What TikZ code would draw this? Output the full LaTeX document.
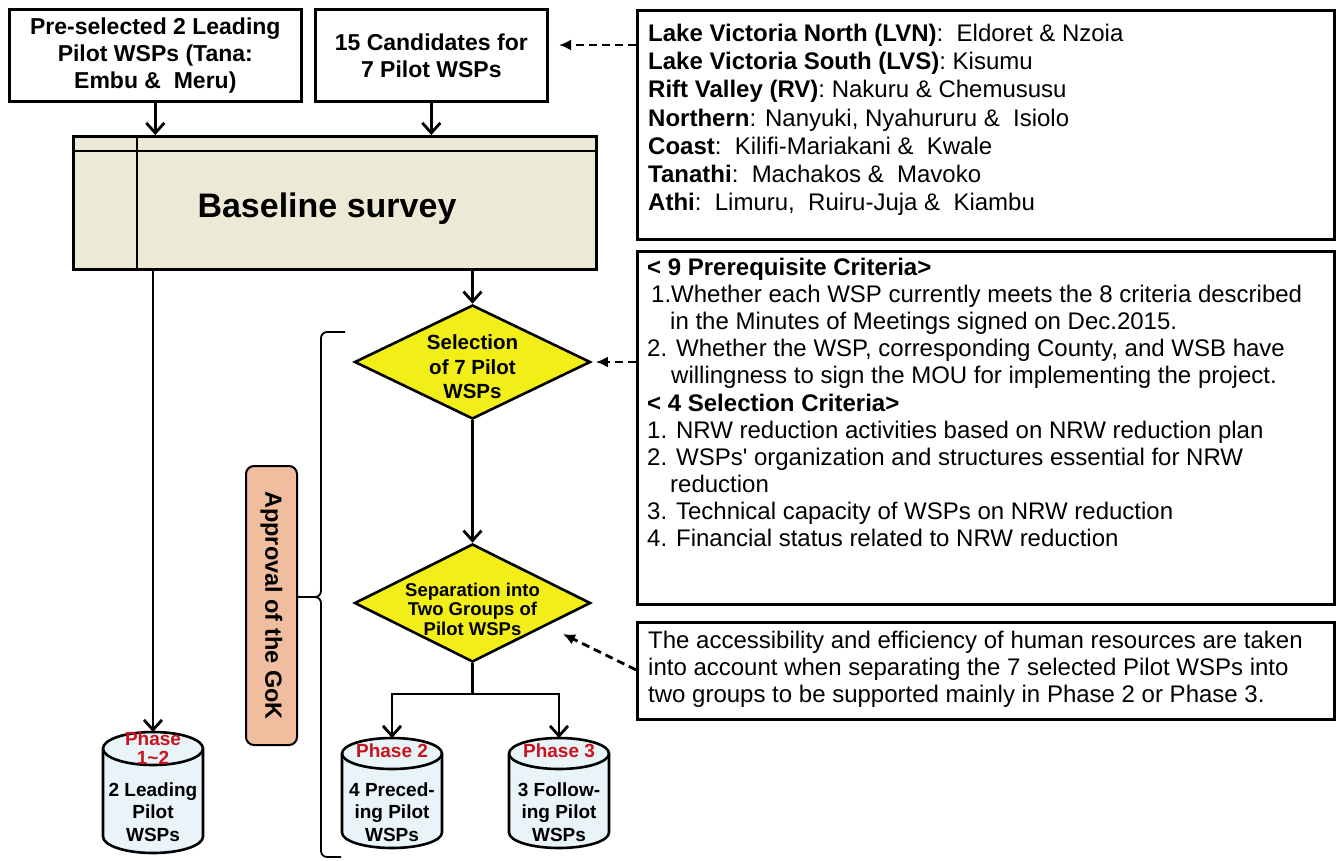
\documentclass[tikz,border=0pt]{standalone}
\usepackage{fontspec}
\setmainfont{Liberation Sans}
\newfontfamily\straightfont{Liberation Sans}[Ligatures=TeXOff]
\usetikzlibrary{arrows.meta,shapes.geometric,calc}

\definecolor{survey}{RGB}{236,234,214}
\definecolor{decision}{RGB}{242,238,24}
\definecolor{approval}{RGB}{240,190,158}
\definecolor{store}{RGB}{232,244,247}
\definecolor{phasered}{RGB}{200,20,30}

% drum (cylinder) outline: centre x, top y, bottom y, half height of the ellipse, name of top point
\newcommand{\drum}[5]{%
  \filldraw[drumline] (#1-50,#2+#4) -- (#1-50,#3-#4)
    arc[start angle=180,end angle=0,x radius=50,y radius=#4]
    -- (#1+50,#2+#4)
    arc[start angle=0,end angle=-180,x radius=50,y radius=#4] -- cycle;
  \draw[drumline] (#1-50,#2+#4) arc[start angle=180,end angle=0,x radius=50,y radius=#4];
  \coordinate (#5) at (#1,#2);
}

\begin{document}
\begin{tikzpicture}[x=1pt,y=-1pt,
  boxline/.style={draw=black,line width=2.6pt},
  topbox/.style={boxline,fill=white,anchor=north west,align=center,inner sep=0pt,
    font=\fontsize{23}{27}\selectfont\bfseries},
  panel/.style={boxline,fill=white,anchor=north west,inner sep=0pt},
  paneltext/.style={anchor=north west,align=left,inner sep=0pt},
  flow/.style={line width=2.8pt,-{Straight Barb[length=10pt,width=18pt]}},
  plainline/.style={line width=2.8pt},
  hint/.style={line width=2.8pt,dash pattern=on 8pt off 5pt,-{Latex[length=12pt,width=11pt]}},
  decide/.style={diamond,draw=black,line width=2.6pt,fill=decision,inner sep=0pt},
  drumline/.style={draw=black,line width=2.6pt,fill=store},
  drumbody/.style={align=center,inner sep=0pt,font=\fontsize{19}{22.5}\selectfont\bfseries},
  phase/.style={align=center,inner sep=0pt,text=phasered,font=\fontsize{19}{19.5}\selectfont\bfseries},
  brace/.style={line width=1.8pt,rounded corners=6pt}
]
\fill[white] (0,0) rectangle (1339,860);
\useasboundingbox (0,0) rectangle (1339,860);

% inputs
\node[topbox,minimum width=292,minimum height=92] (bA) at (8,8)
  {Pre-selected 2 Leading\\Pilot WSPs (Tana:\\Embu \&\ \ Meru)};
\node[topbox,minimum width=232,minimum height=92] (bB) at (314,8)
  {15 Candidates for\\7 Pilot WSPs};

% baseline survey block
\node[boxline,fill=survey,anchor=north west,minimum width=523,minimum height=133,inner sep=0pt] (base) at (72,135) {};
\draw[line width=2.4pt] ($(base.north west)+(0,16)$) -- ($(base.north east)+(0,16)$);
\draw[line width=2.4pt] ($(base.north west)+(65,0)$) -- ($(base.south west)+(65,0)$);
\node[font=\fontsize{34}{40}\selectfont\bfseries,inner sep=0pt] (basetxt) at (327,209) {Baseline survey};

% decisions
\node[decide,minimum width=236,minimum height=114] (d1) at (472.5,362) {};
\node[align=center,inner sep=0pt,font=\fontsize{20.5}{24.5}\selectfont\bfseries] (d1t) at (472.5,367) {Selection\\of 7 Pilot\\WSPs};
\node[decide,minimum width=236,minimum height=118] (d2) at (472.5,603) {};
\node[align=center,inner sep=0pt,font=\fontsize{18.5}{19.5}\selectfont\bfseries] (d2t) at (472.5,609) {Separation into\\Two Groups of\\Pilot WSPs};

% outcome drums
\drum{153}{732}{853}{16.5}{c1top}
\drum{392}{738}{848}{15.5}{c2top}
\drum{559}{738}{848}{15.5}{c3top}
\node[phase] (p1) at (153,748) {Phase\\1\textasciitilde2};
\node[phase] (p2) at (392,751) {Phase 2};
\node[phase] (p3) at (559,751) {Phase 3};
\node[drumbody] (c1) at (153,812) {2 Leading\\Pilot\\WSPs};
\node[drumbody] (c2) at (392,812) {4 Preced-\\ing Pilot\\WSPs};
\node[drumbody] (c3) at (559,812) {3 Follow-\\ing Pilot\\WSPs};

% approval by the GoK
\node[draw=black,line width=2pt,fill=approval,rounded corners=8pt,anchor=north west,
  minimum width=51,minimum height=279,inner sep=0pt] (gok) at (245,465) {};
\node[rotate=-90,inner sep=0pt,font=\fontsize{23.5}{26}\selectfont\bfseries] (gokt) at (gok) {Approval of the GoK};
\draw[brace] (345,332) -- (321,332) -- (321,597) -- (298,597);
\draw[brace] (298,597) -- (321,597) -- (321,857) -- (341,857);

% right-hand panels
\node[panel,minimum width=697,minimum height=229] (r1) at (636,9) {};
\node[paneltext,font=\fontsize{24}{28.2}\selectfont] (r1t) at (648,24) {%
\textbf{Lake Victoria North (LVN)}:\ \ Eldoret \& Nzoia\\
\textbf{Lake Victoria South (LVS)}: Kisumu\\
\textbf{Rift Valley (RV)}: Nakuru \& Chemususu\\
\textbf{Northern}: Nanyuki, Nyahururu \&\ \ Isiolo\\
\textbf{Coast}:\ \ Kilifi-Mariakani \&\ \ Kwale\\
\textbf{Tanathi}:\ \ Machakos \&\ \ Mavoko\\
\textbf{Athi}:\ \ Limuru,\ \ Ruiru-Juja \&\ \ Kiambu};

\node[panel,minimum width=697,minimum height=353] (r2) at (636,250) {};
\node[paneltext,font=\fontsize{24}{27.1}\selectfont] (r2t) at (647,258) {%
\textbf{< 9 Prerequisite Criteria>}\\
\hspace*{4pt}1.Whether each WSP currently meets the 8 criteria described\\
\hspace*{23pt}in the Minutes of Meetings signed on Dec.2015.\\
2. Whether the WSP, corresponding County, and WSB have\\
\hspace*{24pt}willingness to sign the MOU for implementing the project.\\
\textbf{< 4 Selection Criteria>}\\
1. NRW reduction activities based on NRW reduction plan\\
2. WSPs{\straightfont'} organization and structures essential for NRW\\
\hspace*{23pt}reduction\\
3. Technical capacity of WSPs on NRW reduction\\
4. Financial status related to NRW reduction};

\node[panel,minimum width=697,minimum height=97] (r3) at (636,621) {};
\node[paneltext,font=\fontsize{24}{27}\selectfont] (r3t) at (648,631) {%
The accessibility and efficiency of human resources are taken\\
into account when separating the 7 selected Pilot WSPs into\\
two groups to be supported mainly in Phase 2 or Phase 3.};

% solid flow
\draw[flow] (bA.south) -- (bA.south |- base.north);
\draw[flow] (bB.south) -- (bB.south |- base.north);
\draw[flow] (base.south -| c1top) -- (c1top);
\draw[flow] (base.south -| d1.north) -- (d1.north);
\draw[flow] (d1.south) -- (d2.north);
\coordinate (split) at (472.5,694);
\draw[plainline] (d2.south) -- (split);
\draw[flow] (split) -| (c2top);
\draw[flow] (split) -| (c3top);

% dashed hints
\coordinate (h1) at (559,45);
\draw[hint] (r1.west |- h1) -- (h1);
\draw[hint] (r2.west |- d1.east) -- ($(d1.east)+(4,0)$);
\coordinate (h3) at (563,634);
\draw[hint] ($(r3.west)+(0,-1)$) -- (h3);
\end{tikzpicture}
\end{document}
